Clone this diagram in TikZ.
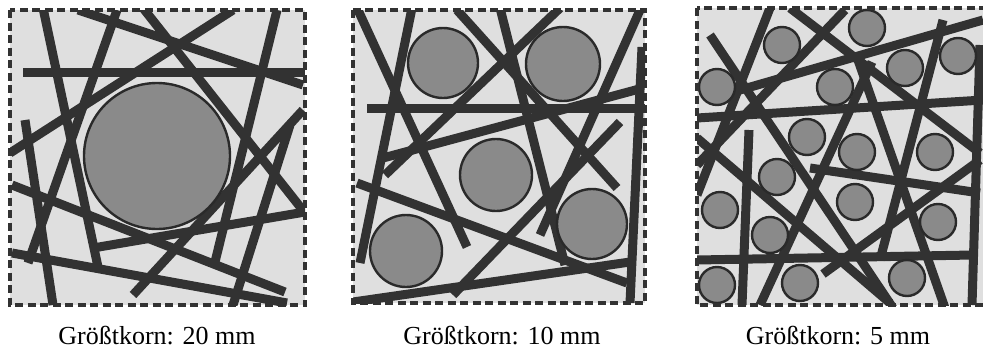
\documentclass[tikz,border=0pt]{standalone}
\usepackage{fontspec}
\setmainfont{Liberation Serif}
\definecolor{bg}{HTML}{DFDFDF}
\definecolor{fib}{HTML}{323232}
\definecolor{grain}{HTML}{8A8A8A}
\definecolor{grainline}{HTML}{2A2A2A}
\tikzset{
  fiber/.style={draw=fib, line width=9pt, line cap=butt},
  grainc/.style={fill=grain, draw=grainline, line width=2.4pt},
  frame/.style={draw=fib, line width=3.2pt, dash pattern=on 8pt off 4.5pt},
  captext/.style={font=\fontsize{26}{30}\selectfont, text=black, inner sep=0pt, anchor=base}
}
\begin{document}
\begin{tikzpicture}[x=1pt,y=-1pt]
\useasboundingbox (0,0) rectangle (983,354);
\fill[white] (0,0) rectangle (983,354);
\clip (0,0) rectangle (983,354);

% ---------- panel 1 ----------
\fill[bg] (10,10) rectangle (305,305);
\begin{scope}
\clip (10,10) rectangle (305,305);
\draw[fiber] (23,72) -- (305,72);
\draw[fiber] (78,10) -- (303,85);
\draw[fiber] (143,8) -- (305,213);
\draw[fiber] (233,10) -- (10,153);
\draw[fiber] (277,10) -- (215,262);
\draw[fiber] (117,10) -- (28,263);
\draw[fiber] (43,8) -- (98,267);
\draw[fiber] (25,120) -- (53,305);
\draw[fiber] (12,185) -- (285,292);
\draw[fiber] (93,248) -- (305,212);
\draw[fiber] (12,253) -- (287,303);
\draw[fiber] (303,110) -- (133,295);
\draw[fiber] (290,125) -- (233,305);
\draw[grainc] (157,156) circle (73);
\end{scope}
\draw[frame] (10,10) rectangle (305,305);

% ---------- panel 2 ----------
\fill[bg] (353,10) rectangle (645,303);
\begin{scope}
\clip (353,10) rectangle (645,303);
\draw[fiber] (367,108) -- (645,108);
\draw[fiber] (358,10) -- (467,247);
\draw[fiber] (412,8) -- (360,263);
\draw[fiber] (457,10) -- (617,188);
\draw[fiber] (500,8) -- (565,265);
\draw[fiber] (453,295) -- (620,122);
\draw[fiber] (640,10) -- (540,235);
\draw[fiber] (642,47) -- (630,303);
\draw[fiber] (383,158) -- (643,88);
\draw[fiber] (385,175) -- (560,8);
\draw[fiber] (357,183) -- (627,283);
\draw[fiber] (353,302) -- (630,262);
\draw[grainc] (443,63) circle (35);
\draw[grainc] (563,64) circle (37);
\draw[grainc] (496,175) circle (36);
\draw[grainc] (406,251) circle (36);
\draw[grainc] (592,224) circle (35);
\end{scope}
\draw[frame] (353,10) rectangle (645,303);

% ---------- panel 3 ----------
\fill[bg] (697,8) rectangle (995,305);
\begin{scope}
\clip (697,8) rectangle (995,305);
\draw[fiber] (697,118) -- (983,100);
\draw[fiber] (697,260) -- (973,255);
\draw[fiber] (740,90) -- (983,20);
\draw[fiber] (770,8) -- (697,195);
\draw[fiber] (710,35) -- (893,308);
\draw[fiber] (697,138) -- (890,303);
\draw[fiber] (790,8) -- (980,153);
\draw[fiber] (845,10) -- (697,165);
\draw[fiber] (749,130) -- (742,305);
\draw[fiber] (980,45) -- (972,305);
\draw[fiber] (943,20) -- (880,260);
\draw[fiber] (858,60) -- (945,308);
\draw[fiber] (872,62) -- (760,305);
\draw[fiber] (823,274) -- (980,160);
\draw[fiber] (810,168) -- (980,193);
\foreach \p in {(867,28),(782,45),(717,87),(835,87),(905,68),(958,56),
  (807,137),(857,152),(935,152),(777,177),(855,202),(720,210),(770,235),
  (938,222),(717,285),(800,283),(907,278)}
  \draw[grainc] \p circle (18);
\end{scope}
\draw[frame] (697,8) rectangle (995,305);

% ---------- captions ----------
\node[captext] (cap1) at (157,344) {Größtkorn: 20 mm};
\node[captext] (cap2) at (502,344) {Größtkorn: 10 mm};
\node[captext] (cap3) at (838,344) {Größtkorn: 5 mm};
\end{tikzpicture}
\end{document}
